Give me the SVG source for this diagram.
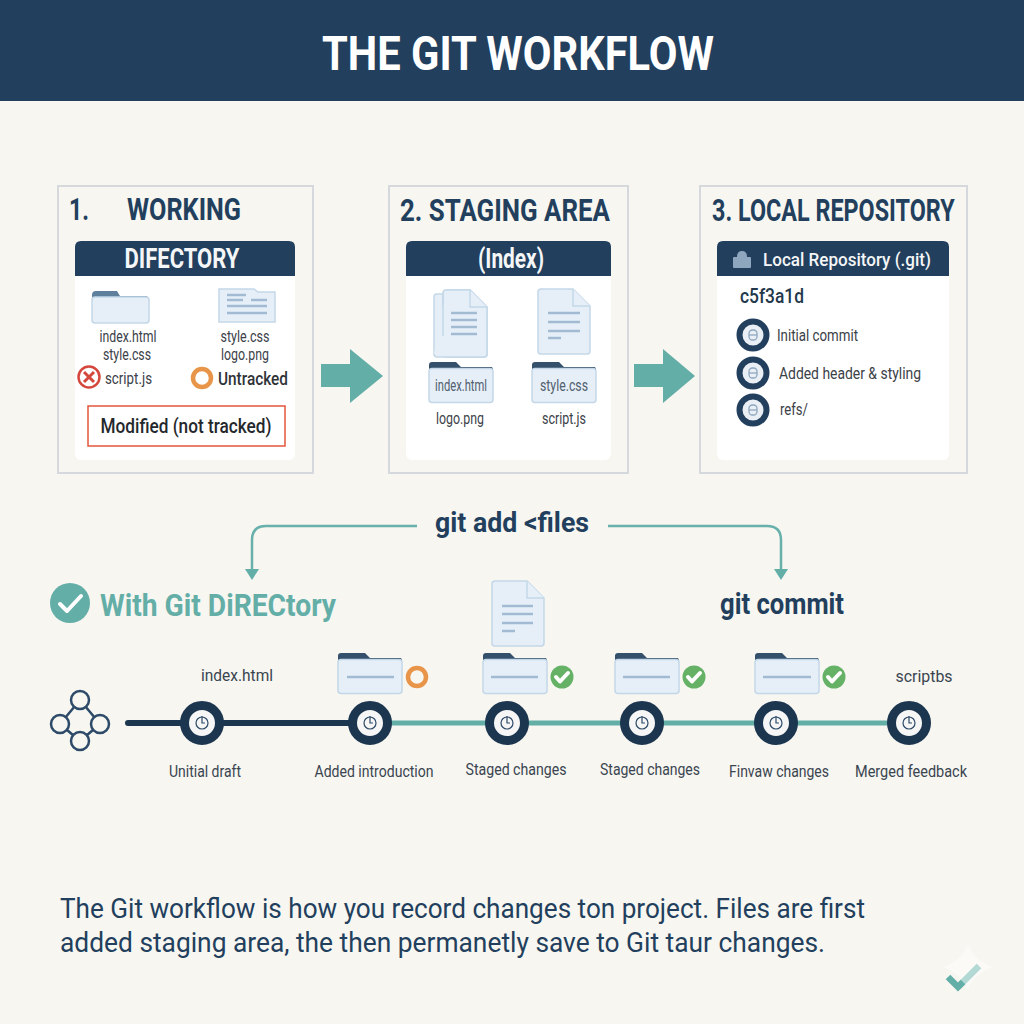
<svg xmlns="http://www.w3.org/2000/svg" xmlns:xlink="http://www.w3.org/1999/xlink" width="1024" height="1024" viewBox="0 0 1024 1024">
<style>
text{font-family:Roboto,"Liberation Sans",sans-serif}
.h{font-weight:700;fill:#223f5d;font-size:31px}
.w{font-weight:700;fill:#f4f6f7;font-size:27px}
.f{font-size:16px;fill:#3b4148}
.t{font-size:17px;fill:#3a4550}
.panel{fill:#f7f6f1;stroke:#d5d9dd;stroke-width:2}
.card{fill:#fff}
.head{fill:#223f5d}
.pl{fill:#e6eff8;stroke:#c3d7e8;stroke-width:1.5}
.ln{stroke:#a3bbd2;stroke-width:2.5;fill:none}
.flow{fill:none;stroke:#68b0ab;stroke-width:2.5}
.big{fill:#64aea8}
.nd{fill:#f5f6f5;stroke:#1d3650;stroke-width:9}
.ic{fill:none;stroke:#2d4a68;stroke-width:1.2}
.ck{fill:none;stroke:#fff;stroke-width:4;stroke-linecap:round;stroke-linejoin:round}
</style>
<defs>
<g id="folder">
<path d="M0 8V3Q0 0 3 0H27L32 5H62Q64 5 64 8Z" fill="#34506b"/>
<rect x="0" y="6.500" width="64" height="34" rx="3" class="pl"/>
</g>
<g id="doc">
<path d="M3 0H35L52 17V62Q52 65 49 65H3Q0 65 0 62V3Q0 0 3 0Z" class="pl"/>
<path d="M35 0V17H52" class="pl"/>
</g>
<g id="clock">
<circle r="17.500" class="nd"/>
<circle r="6" class="ic"/>
<path d="M0-7V0H3" class="ic"/>
</g>
<g id="lock">
<circle r="13.500" fill="#e9eff5" stroke="#223f5d" stroke-width="6"/>
<rect x="-4" y="-5" width="8" height="10" rx="3.500" fill="none" stroke="#8ea7bf" stroke-width="1.300"/>
<path d="M-4 0H4" stroke="#8ea7bf" stroke-width="1.300"/>
</g>
<g id="ok">
<circle r="11.500" fill="#65b166"/>
<path d="M-6 0L-2 4.500L6-4" class="ck" stroke-width="3.500"/>
</g>
</defs>
<rect width="1024" height="1024" fill="#f7f6f1"/>
<g id="title">
<rect width="1024" height="101" fill="#223f5d"/>
<text x="518" y="70" text-anchor="middle" font-size="48" font-weight="700" fill="#fff" textLength="392" lengthAdjust="spacingAndGlyphs">THE GIT WORKFLOW</text>
</g>
<g id="connectors">
<path d="M417 526H266Q252 526 252 540V572" class="flow"/>
<path d="M245 569L252 580L259 569Z" class="big"/>
<path d="M608 526H767Q781 526 781 540V572" class="flow"/>
<path d="M774 569L781 580L788 569Z" class="big"/>
<path d="M321 364H350V349L383 376L350 403V387H321Z" class="big"/>
<path d="M634 364H663V349L695 376L663 403V387H634Z" class="big"/>
<path d="M128 723H370" stroke="#1d3650" stroke-width="6" stroke-linecap="round"/>
<path d="M370 723H909" stroke="#64aea8" stroke-width="5"/>
</g>
<g id="working-directory">
<rect x="58" y="186" width="255" height="287" class="panel"/>
<text x="69" y="220" class="h" textLength="20" lengthAdjust="spacingAndGlyphs">1.</text>
<text x="127" y="220" class="h" textLength="114" lengthAdjust="spacingAndGlyphs">WORKING</text>
<rect x="75" y="241" width="220" height="219" rx="6" class="card"/>
<path d="M75 276V247Q75 241 81 241H289Q295 241 295 247V276Z" class="head"/>
<text x="182" y="268" text-anchor="middle" class="w" textLength="115" lengthAdjust="spacingAndGlyphs">DIFECTORY</text>
<path d="M92 299V295Q92 291 96 291H117L120 296H146Q148 296 148 299Z" fill="#5f809c"/>
<rect x="92" y="297" width="57" height="26" rx="3" class="pl"/>
<path d="M219 289H254L258 292H275V322H219Z" class="pl"/>
<path d="M227 295H246M227 300H243M251 300H267M227 306H267M227 313H267" class="ln" stroke-width="1.500"/>
<text x="128" y="342" text-anchor="middle" class="f" textLength="57" lengthAdjust="spacingAndGlyphs">index.html</text>
<text x="127" y="360" text-anchor="middle" class="f" textLength="48" lengthAdjust="spacingAndGlyphs">style.css</text>
<text x="245" y="342" text-anchor="middle" class="f" textLength="49" lengthAdjust="spacingAndGlyphs">style.css</text>
<text x="245" y="360" text-anchor="middle" class="f" textLength="48" lengthAdjust="spacingAndGlyphs">logo.png</text>
<circle cx="89" cy="377" r="10.500" fill="#fff" stroke="#d5483e" stroke-width="2.500"/>
<path d="M84 372L94 382M94 372L84 382" stroke="#d5483e" stroke-width="3"/>
<text x="105" y="384" class="f" textLength="47" lengthAdjust="spacingAndGlyphs">script.js</text>
<circle cx="202" cy="378" r="9" fill="none" stroke="#e8954a" stroke-width="4.500"/>
<text x="218" y="385" font-size="19" fill="#2f3338" font-weight="500" textLength="70" lengthAdjust="spacingAndGlyphs">Untracked</text>
<rect x="88" y="406" width="197" height="40" fill="#fff" stroke="#e4553c" stroke-width="1.500"/>
<text x="186" y="433" text-anchor="middle" font-size="20" font-weight="500" fill="#24282c" textLength="171" lengthAdjust="spacingAndGlyphs">Modified (not tracked)</text>
</g>
<g id="staging-area">
<rect x="389" y="186" width="239" height="287" class="panel"/>
<text x="400" y="221" class="h" textLength="210" lengthAdjust="spacingAndGlyphs">2. STAGING AREA</text>
<rect x="406" y="241" width="205" height="219" rx="6" class="card"/>
<path d="M406 276V247Q406 241 412 241H605Q611 241 611 247V276Z" class="head"/>
<text x="511" y="268" text-anchor="middle" class="w" textLength="66" lengthAdjust="spacingAndGlyphs">(Index)</text>
<rect x="434" y="294" width="40" height="62" rx="3" class="pl"/>
<path d="M446 290H470L487 307V354Q487 357 484 357H446Q443 357 443 354V293Q443 290 446 290Z" class="pl" stroke-width="0"/>
<path d="M443 293V336M446 290H470L487 307V354Q487 357 484 357H437Q434 357 434 354" class="pl" fill="none"/>
<path d="M470 290V307H487" class="pl"/>
<path d="M451 313H477M451 320H477M451 327H477M451 334H477" class="ln"/>
<use xlink:href="#doc" href="#doc" x="538" y="289"/>
<path d="M548 313H580M548 322H580M548 331H580M548 338H561" class="ln"/>
<use xlink:href="#folder" href="#folder" transform="translate(429 362)"/>
<use xlink:href="#folder" href="#folder" transform="translate(532 362)"/>
<text x="461" y="391" text-anchor="middle" class="f" style="fill:#51606e" textLength="52" lengthAdjust="spacingAndGlyphs">index.html</text>
<text x="564" y="391" text-anchor="middle" class="f" style="fill:#51606e" textLength="48" lengthAdjust="spacingAndGlyphs">style.css</text>
<text x="460" y="424" text-anchor="middle" class="f" textLength="48" lengthAdjust="spacingAndGlyphs">logo.png</text>
<text x="564" y="424" text-anchor="middle" class="f" textLength="44" lengthAdjust="spacingAndGlyphs">script.js</text>
</g>
<g id="local-repository">
<rect x="700" y="186" width="267" height="287" class="panel"/>
<text transform="translate(712 221) scale(.82 1)" class="h" textLength="296" lengthAdjust="spacingAndGlyphs">3. LOCAL REPOSITORY</text>
<rect x="717" y="241" width="232" height="219" rx="6" class="card"/>
<path d="M717 276V247Q717 241 723 241H943Q949 241 949 247V276Z" class="head"/>
<rect x="733" y="257" width="18" height="11" rx="1" fill="#8ea7bf"/>
<path d="M737 257Q737 251 742 251Q747 251 747 257Z" fill="#8ea7bf"/>
<text x="763" y="266" font-size="19" font-weight="500" fill="#f4f6f7" textLength="168" lengthAdjust="spacingAndGlyphs">Local Repository (.git)</text>
<text x="740" y="303" font-size="20" font-weight="500" fill="#24384c" textLength="64" lengthAdjust="spacingAndGlyphs">c5f3a1d</text>
<use xlink:href="#lock" href="#lock" x="753" y="335"/>
<use xlink:href="#lock" href="#lock" x="753" y="373"/>
<use xlink:href="#lock" href="#lock" x="753" y="410"/>
<text x="777" y="341" class="f" textLength="81" lengthAdjust="spacingAndGlyphs">Initial commit</text>
<text x="779" y="379" class="f" textLength="142" lengthAdjust="spacingAndGlyphs">Added header &amp; styling</text>
<text x="780" y="415" class="f" textLength="28" lengthAdjust="spacingAndGlyphs">refs/</text>
</g>
<g id="git-add">
<text x="512" y="532" text-anchor="middle" font-size="28" font-weight="700" fill="#223f5d" textLength="154" lengthAdjust="spacingAndGlyphs">git add &lt;files</text>
</g>
<g id="with-git-directory">
<circle cx="70" cy="603" r="20" fill="#64aea8"/>
<path d="M60 604L67 611L81 596" class="ck" stroke-width="5"/>
<text x="100" y="616" font-size="32" font-weight="700" fill="#64aea8" textLength="236" lengthAdjust="spacingAndGlyphs">With Git DiRECtory</text>
</g>
<g id="git-commit">
<text x="782" y="614" text-anchor="middle" font-size="29" font-weight="700" fill="#223f5d" textLength="124" lengthAdjust="spacingAndGlyphs">git commit</text>
</g>
<g id="git-icon" fill="#f7f6f1" stroke="#2d4a68" stroke-width="2.500">
<path d="M80 700L60 724L80 741L100 724Z"/>
<circle cx="80" cy="700" r="9"/>
<circle cx="60" cy="724" r="9"/>
<circle cx="100" cy="724" r="9"/>
<circle cx="80" cy="741" r="9"/>
</g>
<g id="commit-1">
<use xlink:href="#clock" href="#clock" x="202" y="723"/>
<text x="237" y="681" text-anchor="middle" class="t" textLength="72" lengthAdjust="spacingAndGlyphs">index.html</text>
<text x="205" y="777" text-anchor="middle" class="t" textLength="72" lengthAdjust="spacingAndGlyphs">Unitial draft</text>
</g>
<g id="commit-2">
<use xlink:href="#clock" href="#clock" x="370" y="723"/>
<use xlink:href="#folder" href="#folder" transform="translate(338 653)"/>
<path d="M347 677H394" class="ln"/>
<circle cx="417" cy="677" r="9" fill="none" stroke="#e8954a" stroke-width="4.500"/>
<text x="374" y="777" text-anchor="middle" class="t" textLength="119" lengthAdjust="spacingAndGlyphs">Added introduction</text>
</g>
<g id="commit-3">
<use xlink:href="#clock" href="#clock" x="507" y="723"/>
<use xlink:href="#doc" href="#doc" x="492" y="581"/>
<path d="M502 606H533M502 614H533M502 623H533M502 631H515" class="ln"/>
<use xlink:href="#folder" href="#folder" transform="translate(483 653)"/>
<path d="M491 677H538" class="ln"/>
<use xlink:href="#ok" href="#ok" x="562" y="677"/>
<text x="516" y="775" text-anchor="middle" class="t" textLength="101" lengthAdjust="spacingAndGlyphs">Staged changes</text>
</g>
<g id="commit-4">
<use xlink:href="#clock" href="#clock" x="642" y="723"/>
<use xlink:href="#folder" href="#folder" transform="translate(615 653)"/>
<path d="M623 677H670" class="ln"/>
<use xlink:href="#ok" href="#ok" x="694" y="677"/>
<text x="650" y="775" text-anchor="middle" class="t" textLength="100" lengthAdjust="spacingAndGlyphs">Staged changes</text>
</g>
<g id="commit-5">
<use xlink:href="#clock" href="#clock" x="776" y="723"/>
<use xlink:href="#folder" href="#folder" transform="translate(755 653)"/>
<path d="M763 677H811" class="ln"/>
<use xlink:href="#ok" href="#ok" x="834" y="677"/>
<text x="779" y="777" text-anchor="middle" class="t" textLength="100" lengthAdjust="spacingAndGlyphs">Finvaw changes</text>
</g>
<g id="commit-6">
<use xlink:href="#clock" href="#clock" x="909" y="723"/>
<text x="924" y="682" text-anchor="middle" class="t" textLength="57" lengthAdjust="spacingAndGlyphs">scriptbs</text>
<text x="911" y="777" text-anchor="middle" class="t" textLength="112" lengthAdjust="spacingAndGlyphs">Merged feedback</text>
</g>
<g id="summary" font-size="27" fill="#223f5d">
<text x="60" y="918" textLength="805" lengthAdjust="spacingAndGlyphs">The Git workflow is how you record changes ton project. Files are first</text>
<text x="60" y="952" textLength="765" lengthAdjust="spacingAndGlyphs">added staging area, the then permanetly save to Git taur changes.</text>
</g>
<g id="corner-mark">
<path d="M968 944Q972 958 992 967Q972 976 968 990Q964 976 944 967Q964 958 968 944Z" fill="#fbfaf7"/>
<path d="M958 987L979 966" fill="none" stroke="#b3d9d5" stroke-width="6.500"/>
<path d="M948 977L958 987L963 982" fill="none" stroke="#64aea8" stroke-width="6.500"/>
</g>
</svg>
